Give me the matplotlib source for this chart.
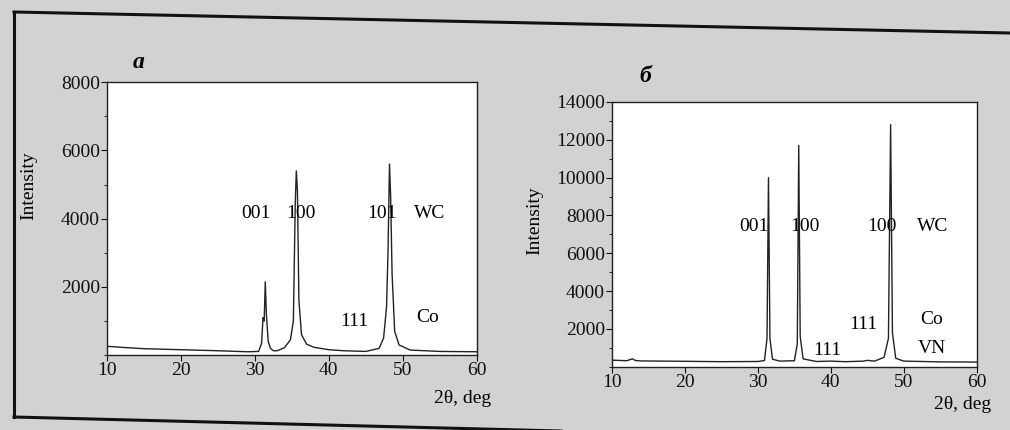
import numpy as np
import matplotlib.pyplot as plt
from matplotlib.ticker import MultipleLocator
from matplotlib.lines import Line2D

plt.rcParams['font.family'] = ['Liberation Serif', 'DejaVu Serif']

# panel a: WC-Co
two_theta_a = [10, 12, 15, 20, 25, 29, 30.5, 30.9, 31.1, 31.25, 31.4, 31.55, 31.8, 32.1,
               32.5, 33, 34, 34.8, 35.2, 35.45, 35.6, 35.75, 35.95, 36.3, 37, 38, 40,
               42, 45, 46.8, 47.4, 47.8, 48.0, 48.2, 48.35, 48.55, 48.9, 49.5, 51, 55, 60]
intensity_a = [260, 230, 190, 160, 130, 100, 110, 350, 1100, 1000, 2150, 1200, 400, 200,
               130, 130, 220, 450, 1000, 4400, 5400, 4800, 1600, 600, 320, 230, 160,
               130, 110, 200, 500, 1400, 3000, 5600, 4700, 2400, 700, 300, 150, 110, 100]

# panel b: WC-Co-VN
two_theta_b = [10, 12, 12.8, 13.2, 14, 20, 25, 30, 30.9, 31.25, 31.45, 31.65, 32.0, 33,
               35.0, 35.4, 35.6, 35.8, 36.2, 38, 40, 42, 44.5, 45, 46, 47.3, 47.9, 48.2,
               48.45, 48.9, 50, 55, 60]
intensity_b = [350, 320, 420, 330, 310, 290, 270, 280, 330, 1500, 10000, 1500, 400, 300,
               320, 1200, 11700, 1600, 420, 280, 300, 270, 300, 340, 300, 500, 1500, 12800,
               1800, 450, 300, 260, 250]

peak_labels_a = [("001", 30.1, 4150), ("100", 36.2, 4150), ("101", 47.2, 4150),
                 ("WC", 53.6, 4150), ("111", 43.5, 1000), ("Co", 53.4, 1100)]
peak_labels_b = [("001", 29.4, 7400), ("100", 36.5, 7400), ("100", 47.0, 7400),
                 ("WC", 53.9, 7400), ("111", 44.4, 2250), ("Co", 53.8, 2500),
                 ("111", 39.5, 850), ("VN", 53.8, 950)]

fig = plt.figure(figsize=(10.1, 4.3), dpi=100, facecolor='#d2d2d2')

# scan frame lines
fig.add_artist(Line2D([14 / 1010, 1010 / 1010], [1 - 12 / 430, 1 - 33 / 430],
                      transform=fig.transFigure, color='#111111', lw=2.2))
fig.add_artist(Line2D([14 / 1010, 14 / 1010], [1 - 12 / 430, 1 - 417 / 430],
                      transform=fig.transFigure, color='#111111', lw=2.2))
fig.add_artist(Line2D([14 / 1010, 600 / 1010], [1 - 417 / 430, 1 - 432 / 430],
                      transform=fig.transFigure, color='#111111', lw=2.2))


def draw_panel(ax, x, y, ymax, ystep, labels, letter, letter_pos, ylab_y, xlab_y):
    ax.plot(x, y, color='#222222', lw=1.0)
    ax.set_xlim(10, 60)
    ax.set_ylim(0, ymax)
    ax.xaxis.set_major_locator(MultipleLocator(10))
    ax.yaxis.set_minor_locator(MultipleLocator(ystep / 2))
    ax.set_yticks([t for t in np.arange(ystep, ymax + 1, ystep)])
    ax.tick_params(direction='out', labelsize=14, length=4, pad=1, colors='#111111')
    ax.tick_params(which='minor', direction='out', length=2)
    for s in ax.spines.values():
        s.set_color('#222222')
        s.set_linewidth(1.0)
    ax.set_ylabel("Intensity", fontsize=14)
    ax.yaxis.set_label_coords(-0.19, ylab_y)
    ax.text(1.04, xlab_y, "2θ, deg", transform=ax.transAxes, ha='right', va='center',
            fontsize=14)
    for txt, tx, ty in labels:
        ax.text(tx, ty, txt, ha='center', va='center', fontsize=14)
    fig.text(letter_pos[0] / 1010, 1 - letter_pos[1] / 430, letter, fontsize=17,
             fontweight='bold', style='italic', ha='center', va='center')


ax_a = fig.add_axes([0.106, 0.174, 0.366, 0.635])
draw_panel(ax_a, two_theta_a, intensity_a, 8000, 2000, peak_labels_a, "a", (139, 62),
           0.62, -0.158)

ax_b = fig.add_axes([0.606, 0.147, 0.361, 0.616])
draw_panel(ax_b, two_theta_b, intensity_b, 14000, 2000, peak_labels_b, "б", (645, 76),
           0.55, -0.143)

fig.savefig("out.png", dpi=100, facecolor=fig.get_facecolor())
